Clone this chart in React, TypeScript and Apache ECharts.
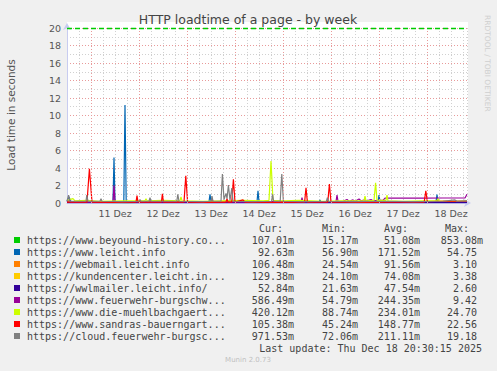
import React, { useEffect, useRef } from 'react';
import * as echarts from 'echarts';

// x values are hours since 10 Dec 00:00
const seriesNames = [
  'https://www.beyound-history.co...',
  'https://www.leicht.info',
  'https://webmail.leicht.info',
  'https://kundencenter.leicht.in...',
  'https://wwlmailer.leicht.info/',
  'https://www.feuerwehr-burgschw...',
  'https://www.die-muehlbachgaert...',
  'https://www.sandras-bauerngart...',
  'https://cloud.feuerwehr-burgsc...',
];
const seriesColors = ['#00CC00', '#0066B3', '#FF8000', '#FFCC00', '#330099', '#990099', '#CCFF00', '#FF0000', '#808080'];
const curVals = ['107.01m', '92.63m', '106.48m', '129.38m', '52.84m', '586.49m', '420.12m', '105.38m', '971.53m'];
const minVals = ['15.17m', '56.90m', '24.54m', '24.10m', '21.63m', '54.79m', '88.74m', '45.24m', '72.06m'];
const avgVals = ['51.08m', '171.52m', '91.56m', '74.08m', '47.54m', '244.35m', '234.01m', '148.77m', '211.11m'];
const maxVals = ['853.08m', '54.75', '3.10', '3.38', '2.60', '9.42', '24.70', '22.56', '19.18'];
const columnHeaders = ['Cur:', 'Min:', 'Avg:', 'Max:'];

const dayLabelHours = [36, 60, 84, 108, 132, 156, 180, 204];
const dayLabels = ['11 Dez', '12 Dez', '13 Dez', '14 Dez', '15 Dez', '16 Dez', '17 Dez', '18 Dez'];
const midnightHours = [24, 48, 72, 96, 120, 144, 168, 192];
const warningLevel = 20;

const beyoundPts = [[12, 0.1], [20, 0.06], [30, 0.08], [42, 0.05], [55, 0.09], [68, 0.07], [80, 0.1], [95, 0.06], [110, 0.08], [125, 0.07], [140, 0.09], [155, 0.06], [170, 0.08], [185, 0.07], [200, 0.1], [212, 0.1]];
const leichtPts = [[12, 0.2], [13, 0.7], [14, 0.15], [25, 0.1], [35, 0.12], [35.5, 5.2], [36, 0.12], [40.4, 0.15], [41, 11.2], [41.6, 0.15], [55, 0.1], [70, 0.12], [83, 0.12], [83.5, 1.0], [84, 0.12], [100, 0.1], [107, 0.15], [107.5, 1.4], [108, 0.15], [120, 0.1], [138, 0.12], [138.5, 0.35], [139, 0.1], [150, 0.15], [160, 0.12], [167.5, 0.1], [168, 0.9], [168.5, 0.12], [180, 0.1], [196.5, 0.12], [197, 0.95], [197.5, 0.12], [212, 0.15]];
const webmailPts = [[12, 0.1], [22, 0.08], [30, 0.15], [45, 0.07], [60, 0.1], [75, 0.08], [88, 0.12], [95, 0.3], [96, 0.08], [110, 0.1], [125, 0.07], [140, 0.1], [155, 0.08], [170, 0.12], [185, 0.08], [200, 0.1], [212, 0.1]];
const kundencenterPts = [[12, 0.08], [25, 0.06], [40, 0.1], [55, 0.07], [70, 0.09], [85, 0.06], [100, 0.1], [115, 0.07], [130, 0.09], [145, 0.06], [160, 0.08], [175, 0.07], [190, 0.1], [212, 0.08]];
const wwlmailerPts = [[12, 0.05], [30, 0.04], [50, 0.06], [70, 0.05], [90, 0.04], [110, 0.06], [130, 0.05], [150, 0.04], [170, 0.05], [190, 0.06], [212, 0.05]];
const feuerwehrPts = [[12, 0.12], [13, 0.35], [14, 0.1], [30, 0.1], [35, 0.1], [35.5, 2.0], [36, 0.1], [60, 0.12], [84, 0.12], [84.5, 0.5], [85, 0.12], [100, 0.1], [110, 0.15], [129, 0.12], [129.5, 0.6], [130, 0.12], [140, 0.15], [146.5, 0.15], [147, 0.9], [147.5, 0.2], [150, 0.2], [152, 0.4], [153, 0.2], [155, 0.35], [156, 0.2], [158, 0.45], [159, 0.25], [161, 0.35], [162, 0.25], [164, 0.4], [165, 0.25], [168, 0.3], [170, 0.3], [171, 0.56], [180, 0.57], [190, 0.56], [200, 0.57], [211, 0.57], [212, 1.0]];
const muehlbachPts = [[12, 0.3], [15, 0.5], [16, 0.25], [22, 0.3], [28, 0.2], [40, 0.25], [51, 0.25], [51.5, 0.5], [52, 0.25], [60, 0.3], [68.5, 0.25], [69, 0.7], [69.5, 0.25], [80, 0.2], [90, 0.25], [100, 0.3], [110, 0.25], [113, 0.3], [114, 4.8], [115, 0.3], [120, 0.25], [128, 0.3], [140, 0.2], [150, 0.25], [160.5, 0.25], [161, 0.8], [161.5, 0.25], [165.5, 0.3], [166.3, 2.3], [167, 0.3], [171.5, 0.3], [172, 0.9], [172.5, 0.25], [180, 0.2], [190, 0.25], [197, 0.25], [197.5, 0.5], [198, 0.25], [205, 0.2], [212, 0.25]];
const sandrasPts = [[12, 0.1], [22, 0.1], [23.2, 3.9], [24.5, 0.1], [35, 0.08], [46.5, 0.1], [47, 0.85], [47.5, 0.1], [59.2, 0.1], [59.7, 1.05], [60.2, 0.1], [70.5, 0.1], [71.4, 3.1], [72.3, 0.1], [83, 0.08], [91.5, 0.1], [92, 0.5], [92.5, 0.1], [94.4, 0.1], [95.2, 2.7], [96, 0.1], [100, 0.35], [101, 0.1], [115, 0.08], [130.8, 0.1], [131.5, 1.75], [132.2, 0.1], [142.4, 0.1], [143.2, 2.17], [144, 0.1], [160, 0.08], [175, 0.1], [190.6, 0.1], [191.4, 1.4], [192.2, 0.15], [200, 0.2], [212, 0.2]];
const cloudPts = [[12, 0.2], [12.8, 0.9], [13.5, 0.2], [21.5, 0.2], [21.9, 0.9], [22.5, 0.2], [28.5, 0.2], [29, 0.5], [29.5, 0.2], [40, 0.15], [48, 0.2], [48.5, 0.4], [49, 0.2], [53, 0.2], [53.5, 0.6], [54, 0.2], [66.9, 0.2], [67.4, 1.0], [68, 0.2], [80, 0.15], [84, 0.2], [84.5, 0.8], [85, 0.2], [89, 0.2], [89.7, 3.3], [90.5, 0.4], [91.5, 1.1], [92, 0.5], [92.7, 2.05], [93.5, 0.3], [94.4, 1.7], [95, 0.2], [105, 0.15], [114.3, 0.2], [114.8, 1.0], [115.3, 0.2], [118.6, 0.2], [119.4, 3.3], [120.2, 0.2], [130, 0.15], [141.7, 0.2], [142.2, 0.6], [142.7, 0.2], [155, 0.15], [170, 0.2], [185, 0.15], [200, 0.2], [206, 0.35], [207, 0.2], [212, 0.25]];

const allPts = [beyoundPts, leichtPts, webmailPts, kundencenterPts, wwlmailerPts, feuerwehrPts, muehlbachPts, sandrasPts, cloudPts];

const MONO = '"DejaVu Sans Mono", monospace';
const SANS = '"DejaVu Sans", sans-serif';

export default function App() {
  const ref = useRef<HTMLDivElement>(null);
  useEffect(() => {
    if (!ref.current) return;
    const chart = echarts.init(ref.current, undefined, { renderer: 'svg' });

    const graphics: any[] = [];
    graphics.push({ type: 'rect', z: -10, shape: { x: 67, y: 22, width: 401, height: 181 }, style: { fill: '#ffffff' } });
    graphics.push({ type: 'text', x: 248, y: 19, style: { text: 'HTTP loadtime of a page - by week', fill: '#444', fontSize: 12.5, fontFamily: SANS, align: 'center', verticalAlign: 'middle' } });
    graphics.push({ type: 'text', x: 11, y: 115, rotation: Math.PI / 2, style: { text: 'Load time in seconds', fill: '#555', fontSize: 10.5, fontFamily: SANS, align: 'center', verticalAlign: 'middle' } });
    graphics.push({ type: 'text', x: 487, y: 15, rotation: -Math.PI / 2, style: { text: 'RRDTOOL / TOBI OETIKER', fill: '#cfcfcf', fontSize: 7.5, fontFamily: SANS, align: 'left', verticalAlign: 'middle' } });

    const headerRight = [283, 346, 408, 469];
    columnHeaders.forEach((h, i) => {
      graphics.push({ type: 'text', x: headerRight[i], y: 228, style: { text: h, fill: '#444', fontSize: 10, fontFamily: MONO, align: 'right', verticalAlign: 'middle' } });
    });
    const colRight = [294, 358, 420, 483];
    seriesNames.forEach((n, i) => {
      const y = 240 + i * 12;
      graphics.push({ type: 'rect', shape: { x: 14, y: y - 3, width: 6, height: 6 }, style: { fill: seriesColors[i] } });
      graphics.push({ type: 'text', x: 27, y, style: { text: n, fill: '#444', fontSize: 10, fontFamily: MONO, align: 'left', verticalAlign: 'middle' } });
      [curVals[i], minVals[i], avgVals[i], maxVals[i]].forEach((v, c) => {
        const rx = v.endsWith('m') ? colRight[c] : colRight[c] - 6;
        graphics.push({ type: 'text', x: rx, y, style: { text: v, fill: '#444', fontSize: 10, fontFamily: MONO, align: 'right', verticalAlign: 'middle' } });
      });
    });
    graphics.push({ type: 'text', x: 482, y: 348, style: { text: 'Last update: Thu Dec 18 20:30:15 2025', fill: '#444', fontSize: 10, fontFamily: MONO, align: 'right', verticalAlign: 'middle' } });
    graphics.push({ type: 'text', x: 248, y: 360, style: { text: 'Munin 2.0.73', fill: '#c0c0c0', fontSize: 7, fontFamily: SANS, align: 'center', verticalAlign: 'middle' } });

    const dataSeries = allPts.map((pts, i) => ({
      type: 'line',
      name: seriesNames[i],
      data: pts,
      showSymbol: false,
      symbol: 'none',
      z: 3,
      lineStyle: { color: seriesColors[i], width: 1.2 },
      itemStyle: { color: seriesColors[i] },
      silent: true,
    }));

    chart.setOption({
      animation: false,
      backgroundColor: '#F0F0F0',
      grid: { left: 67, top: 28, width: 400, height: 175, show: true, backgroundColor: '#ffffff', borderWidth: 0 },
      xAxis: {
        type: 'value',
        min: 12,
        max: 212,
        interval: 6,
        axisLine: { show: true, onZero: false, lineStyle: { color: '#C8CCF0', width: 1 }, symbol: ['none', 'arrow'], symbolSize: [6, 7], symbolOffset: [0, 4] },
        axisTick: { show: false },
        axisLabel: {
          color: '#555',
          fontSize: 9.5,
          fontFamily: SANS,
          margin: 5,
          showMinLabel: false,
          showMaxLabel: false,
          formatter: (v: number) => {
            const k = dayLabelHours.indexOf(v);
            return k >= 0 ? dayLabels[k] : '';
          },
        },
        splitLine: { show: true, lineStyle: { color: '#d0d0d0', type: [1, 2], width: 1 } },
      },
      yAxis: {
        type: 'value',
        min: 0,
        max: 20,
        interval: 2,
        axisLine: { show: true, lineStyle: { color: '#C8CCF0', width: 1 }, symbol: ['none', 'arrow'], symbolSize: [6, 7], symbolOffset: [0, 5] },
        axisTick: { show: false },
        minorTick: { show: false, splitNumber: 2 },
        minorSplitLine: { show: true, lineStyle: { color: '#d0d0d0', type: [1, 2], width: 1 } },
        axisLabel: { color: '#555', fontSize: 9.5, fontFamily: SANS, margin: 6 },
        splitLine: { show: true, lineStyle: { color: '#e89a9a', type: [1, 2], width: 1 } },
      },
      series: [
        {
          type: 'line',
          data: [],
          z: 1,
          silent: true,
          markLine: {
            silent: true,
            symbol: 'none',
            label: { show: false },
            lineStyle: { color: '#e89a9a', type: [1, 2], width: 1 },
            data: midnightHours.map((h) => ({ xAxis: h })),
          },
        },
        ...dataSeries,
        {
          type: 'line',
          data: [],
          z: 4,
          silent: true,
          markLine: {
            silent: true,
            symbol: 'none',
            label: { show: false },
            lineStyle: { color: '#00CC00', type: [5, 3], width: 1.3 },
            data: [{ yAxis: warningLevel }],
          },
        },
      ],
      graphic: graphics,
    });
    return () => chart.dispose();
  }, []);
  return <div ref={ref} style={{ position: 'fixed', left: 0, top: 0, width: 497, height: 371 }} />;
}
